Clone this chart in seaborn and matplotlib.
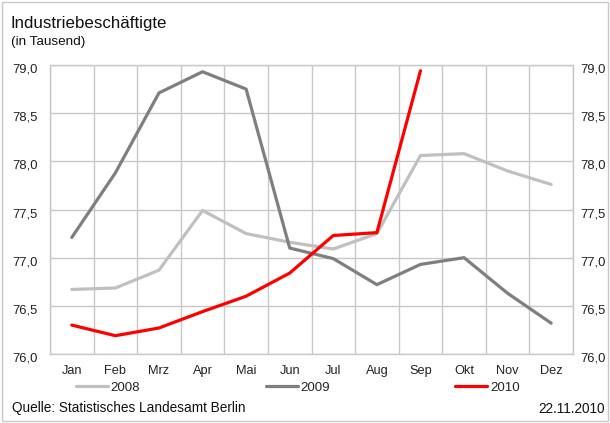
import numpy as np
import pandas as pd
import matplotlib
matplotlib.use("Agg")
import matplotlib.pyplot as plt
import matplotlib.transforms as mtransforms
from matplotlib.patches import Rectangle
import seaborn as sns

months = ["Jan", "Feb", "Mrz", "Apr", "Mai", "Jun", "Jul", "Aug", "Sep", "Okt", "Nov", "Dez"]
v2008 = [76.67, 76.685, 76.87, 77.49, 77.25, 77.16, 77.09, 77.25, 78.06, 78.08, 77.90, 77.76]
v2009 = [77.21, 77.88, 78.71, 78.93, 78.75, 77.10, 76.99, 76.72, 76.93, 77.00, 76.63, 76.32]
v2010 = [76.30, 76.19, 76.27, 76.44, 76.60, 76.84, 77.23, 77.26, 78.94]
years = ["2008", "2009", "2010"]
colors = ["#c0c0c0", "#7f7f7f", "#ff0000"]
yticks = [76.0, 76.5, 77.0, 77.5, 78.0, 78.5, 79.0]

rows = []
for year, vals in zip(years, [v2008, v2009, v2010]):
    for i, v in enumerate(vals):
        rows.append({"Monat": i, "Wert": v, "Jahr": year})
df = pd.DataFrame(rows)

sns.set_theme(style="white")
plt.rcParams["font.family"] = ["Liberation Sans", "DejaVu Sans"]

fig = plt.figure(figsize=(6.10, 4.23), dpi=100)
ax = fig.add_axes([50 / 610, 1 - 354 / 423, 523 / 610, 289 / 423])

sns.lineplot(data=df, x="Monat", y="Wert", hue="Jahr", palette=colors,
             linewidth=2.3, ax=ax, legend=False)

ax.set_xlim(-0.5, 11.5)
ax.set_ylim(76.0, 79.0)
ax.set_xlabel("")
ax.set_ylabel("")

# grid lines between months, labels on month centres
ax.set_xticks(np.arange(-0.5, 12, 1))
ax.set_xticklabels([])
ax.set_xticks(np.arange(12), minor=True)
ax.set_xticklabels(months, minor=True, fontsize=9.2, color="#222222")
ylabels = [f"{t:.1f}".replace(".", ",") for t in yticks]
ax.set_yticks(yticks)
ax.set_yticklabels(ylabels, fontsize=9.4, color="#222222")
ax.tick_params(axis="x", which="both", length=0, pad=8)
ax.tick_params(axis="y", length=0, pad=9)
ax.grid(True, which="major", color="#c8c8c8", linewidth=1)
for s in ax.spines.values():
    s.set_color("#c8c8c8")
    s.set_linewidth(1)

ax2 = ax.twinx()
ax2.set_ylim(ax.get_ylim())
ax2.set_yticks(yticks)
ax2.set_yticklabels(ylabels, fontsize=9.4, color="#222222")
ax2.tick_params(axis="y", length=0, pad=5)
for s in ax2.spines.values():
    s.set_visible(False)

# value labels sit slightly below their grid line
shift = mtransforms.ScaledTranslation(0, -3 / 100, fig.dpi_scale_trans)
for lab in ax.get_yticklabels() + ax2.get_yticklabels():
    lab.set_transform(lab.get_transform() + shift)

handles = [plt.Line2D([], [], color=c, linewidth=2.3) for c in colors]
fig.legend(handles, years, loc="center left", ncol=3,
           bbox_to_anchor=(76 / 610, 1 - 388 / 423),
           frameon=False, fontsize=9.6, handlelength=2.4, handletextpad=0.2,
           columnspacing=9.4, borderaxespad=0, borderpad=0)

fig.text(11 / 610, 1 - 28 / 423, "Industriebeschäftigte", fontsize=12.2,
         color="#111111", va="baseline", ha="left")
fig.text(11 / 610, 1 - 45 / 423, "(in Tausend)", fontsize=9.7,
         color="#111111", va="baseline", ha="left")
fig.text(12 / 610, 1 - 412 / 423, "Quelle: Statistisches Landesamt Berlin",
         fontsize=9.8, color="#111111", va="baseline", ha="left")
fig.text(605 / 610, 1 - 413 / 423, "22.11.2010", fontsize=9.8,
         color="#111111", va="baseline", ha="right")

fig.patches.append(Rectangle((2 / 610, 2 / 423), 606 / 610, 419 / 423,
                             transform=fig.transFigure, fill=False,
                             edgecolor="#c8c8c8", linewidth=1))

fig.savefig("out.png", dpi=100)
